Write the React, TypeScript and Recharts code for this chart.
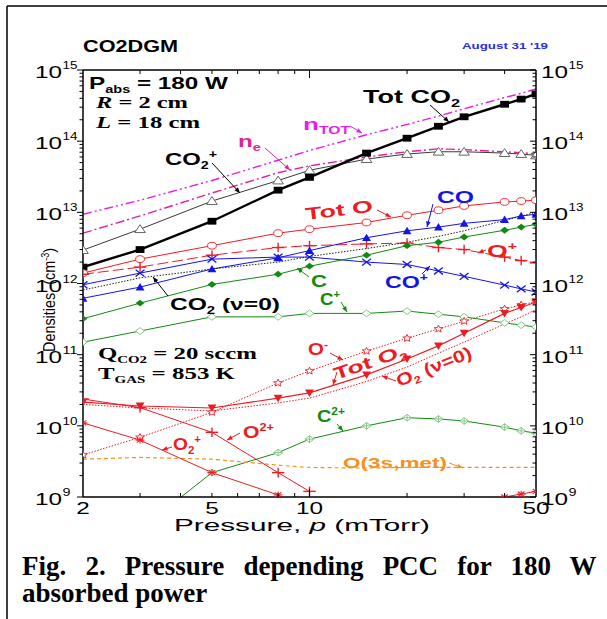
import React from 'react';
import { LineChart, Line, XAxis, YAxis } from 'recharts';

const SANS = '"Liberation Sans", Arial, sans-serif';
const SERIF = '"Liberation Serif", "Times New Roman", serif';

const RED = '#ec1c24';
const BLUE = '#1414e6';
const GREEN = '#128a12';
const LGREEN = '#86c886';
const MAG = '#e81ee8';
const PINK = '#e0209c';
const ORANGE = '#f39223';

// pressure (mTorr)
const P = [2, 3, 5, 8, 10, 15, 20, 25, 30, 40, 45, 50];

// densities (cm^-3)
const totCO2 = [1.7e12, 3e12, 7.5e12, 2.05e13, 3.1e13, 6.8e13, 1.1e14, 1.62e14, 2.2e14, 3.3e14, 3.9e14, 4.6e14];
const co2Ion = [2.95e12, 5.8e12, 1.44e13, 2.8e13, 3.9e13, 5.6e13, 6.6e13, 7.1e13, 7.1e13, 6.8e13, 6.6e13, 6.3e13];
const ne = [5.1e12, 8.9e12, 1.87e13, 3.6e13, 4.5e13, 6e13, 7.1e13, 7.8e13, 7.6e13, 7.1e13, 6.9e13, 6.6e13];
const nTot = [9.4e12, 1.48e13, 2.8e13, 5.4e13, 7.4e13, 1.23e14, 1.72e14, 2.25e14, 2.85e14, 4.1e14, 4.7e14, 5.4e14];
const totO = [1.4e12, 2.2e12, 3.4e12, 5.1e12, 5.8e12, 7.2e12, 9.1e12, 1.07e13, 1.23e13, 1.4e13, 1.44e13, 1.48e13];
const oIon = [1.35e12, 1.7e12, 2.5e12, 3.2e12, 3.4e12, 3.6e12, 3.7e12, 3.2e12, 3e12, 2.35e12, 2.1e12, 1.95e12];
const co = [6.2e11, 8.9e11, 1.6e12, 2.3e12, 2.9e12, 4.4e12, 5.5e12, 6.2e12, 7e12, 7.9e12, 8.9e12, 9.4e12];
const coIon = [9.6e11, 1.4e12, 2.2e12, 2.35e12, 2.35e12, 2e12, 1.85e12, 1.5e12, 1.26e12, 9.5e11, 8.4e11, 7.6e11];
const co2v0 = [8.1e11, 1.2e12, 1.6e12, 2e12, 2.4e12, 3.1e12, 3.8e12, 4.6e12, 5.5e12, 7.7e12, 8.8e12, 1e13];
const cAtom = [3.2e11, 5.3e11, 9.7e11, 1.35e12, 1.75e12, 2.5e12, 3.4e12, 3.8e12, 4.5e12, 5.6e12, 6.2e12, 6.8e12];
const cIon = [1.5e11, 2.15e11, 3.4e11, 3.4e11, 3.8e11, 3.8e11, 4.1e11, 3.7e11, 3.4e11, 2.8e11, 2.6e11, 2.45e11];
const oNeg = [3.9e9, 6.9e9, 1.55e10, 4e10, 5.9e10, 1.12e11, 1.7e11, 2.3e11, 2.95e11, 4.4e11, 5e11, 5.6e11];
const totO2 = [2.15e10, 1.9e10, 1.78e10, 2.45e10, 2.9e10, 5.2e10, 8.7e10, 1.33e11, 2e11, 3.8e11, 4.6e11, 5.5e11];
const o2v0 = [2e10, 1.78e10, 1.62e10, 2.1e10, 2.45e10, 4.2e10, 6.7e10, 1.05e11, 1.5e11, 2.7e11, 3.4e11, 4.3e11];
const c2Ion = [null, 3.5e8, 2.2e9, 4.2e9, 6.5e9, 1e10, 1.3e10, 1.25e10, 1.17e10, 9.6e9, 8.5e9, 7.9e9];
const o3s = [3.4e9, 3.6e9, 3.4e9, 2.8e9, 2.6e9, 2.55e9, 2.6e9, 2.6e9, 2.6e9, 2.6e9, 2.6e9, 2.6e9];
const o2Ion = [1.1e10, 6.3e9, 2.2e9, 1.07e9, 6e8, 3e8, 2.5e8, 3e8, 5e8, 1e9, 1.1e9, 1.2e9];
const oDbl = [2.38e10, 1.8e10, 8.1e9, 2.2e9, 1.2e9, null, null, null, null, null, null, null];

const xTicks = [2, 3, 4, 5, 6, 7, 8, 9, 10, 20, 30, 40, 50];
const xLabels = [2, 5, 10, 50];
const yTicks: number[] = [];
for (let e = 9; e <= 15; e++) {
  for (let m = 1; m <= 9; m++) {
    if (e === 15 && m > 1) break;
    yTicks.push(m * Math.pow(10, e));
  }
}

const rows = P.map((p, i) => ({
  p,
  totCO2: totCO2[i], co2Ion: co2Ion[i], ne: ne[i], nTot: nTot[i],
  totO: totO[i], oIon: oIon[i], co: co[i], coIon: coIon[i], co2v0: co2v0[i],
  cAtom: cAtom[i], cIon: cIon[i], oNeg: oNeg[i], totO2: totO2[i], o2v0: o2v0[i],
  c2Ion: c2Ion[i], o3s: o3s[i], o2Ion: o2Ion[i], oDbl: oDbl[i],
}));

const Marker = ({ kind, color, x, y }: any) => {
  const s = 3.4;
  const w = s * 1.3;
  switch (kind) {
    case 'square':
      return <rect x={x - w} y={y - s} width={2 * w} height={2 * s} fill={color} />;
    case 'triOpen':
      return <polygon points={`${x - w * 1.2},${y + s} ${x + w * 1.2},${y + s} ${x},${y - s * 1.3}`} fill="#fff" stroke="#666" strokeWidth={1} />;
    case 'triUp':
      return <polygon points={`${x - w},${y + s} ${x + w},${y + s} ${x},${y - s * 1.2}`} fill={color} />;
    case 'triDown':
      return <polygon points={`${x - w},${y - s} ${x + w},${y - s} ${x},${y + s * 1.2}`} fill={color} />;
    case 'circle':
      return <ellipse cx={x} cy={y} rx={w} ry={s} fill="#fff" stroke={color} strokeWidth={0.9} />;
    case 'plus':
      return (
        <g stroke={color} strokeWidth={1.4}>
          <line x1={x - w * 1.4} x2={x + w * 1.4} y1={y} y2={y} />
          <line x1={x} x2={x} y1={y - s * 1.4} y2={y + s * 1.4} />
        </g>
      );
    case 'cross':
      return (
        <g stroke={color} strokeWidth={1.3}>
          <line x1={x - w} x2={x + w} y1={y - s} y2={y + s} />
          <line x1={x - w} x2={x + w} y1={y + s} y2={y - s} />
        </g>
      );
    case 'diamond':
      return <polygon points={`${x - w},${y} ${x},${y - s} ${x + w},${y} ${x},${y + s}`} fill={color} />;
    case 'diamondOpen':
      return <polygon points={`${x - w},${y} ${x},${y - s} ${x + w},${y} ${x},${y + s}`} fill="#fff" stroke={color} strokeWidth={1} />;
    case 'diamondCross':
      return (
        <g stroke={color} strokeWidth={1}>
          <polygon points={`${x - w},${y} ${x},${y - s} ${x + w},${y} ${x},${y + s}`} fill="#fff" />
          <line x1={x - w} x2={x + w} y1={y} y2={y} />
          <line x1={x} x2={x} y1={y - s} y2={y + s} />
        </g>
      );
    case 'star': {
      const pts: string[] = [];
      for (let k = 0; k < 10; k++) {
        const r = k % 2 === 0 ? 3.8 : 1.7;
        const a = -Math.PI / 2 + (k * Math.PI) / 5;
        pts.push(`${x + r * 1.2 * Math.cos(a)},${y + r * Math.sin(a)}`);
      }
      return <polygon points={pts.join(' ')} fill="#fff" stroke={color} strokeWidth={0.9} />;
    }
    case 'asterisk':
      return (
        <g stroke={color} strokeWidth={1.1}>
          <line x1={x - w} x2={x + w} y1={y} y2={y} />
          <line x1={x} x2={x} y1={y - s} y2={y + s} />
          <line x1={x - w * 0.75} x2={x + w * 0.75} y1={y - s * 0.75} y2={y + s * 0.75} />
          <line x1={x - w * 0.75} x2={x + w * 0.75} y1={y + s * 0.75} y2={y - s * 0.75} />
        </g>
      );
    default:
      return null;
  }
};

const dotFn = (kind: string, color: string) => (props: any) => {
  const { cx, cy, index, value } = props;
  if (cx == null || cy == null || value == null) return <g key={index} />;
  return (
    <g key={index}>
      <Marker kind={kind} color={color} x={cx} y={cy} />
    </g>
  );
};

// tick marks and labels are drawn by hand so minor/major ticks can differ
const YTick = (side: 'l' | 'r') => (props: any) => {
  const { y, payload } = props;
  const x = side === 'l' ? 83 : 536;
  const v = payload.value;
  const lg = Math.log10(v);
  const e = Math.round(lg);
  const major = Math.abs(lg - e) < 1e-6;
  const len = major ? 6 : 3.5;
  const lx = side === 'l' ? 35 : 541;
  return (
    <g>
      <line x1={x - len} x2={x} y1={y} y2={y} stroke="#000" strokeWidth={1} />
      {major && (
        <g fontFamily={SANS} fill="#000">
          <text x={lx} y={y + 8} fontSize={16} textLength={27} lengthAdjust="spacingAndGlyphs">10</text>
          <text x={lx + 27.5} y={y - 1} fontSize={10.5} textLength={e >= 10 ? 15 : 8} lengthAdjust="spacingAndGlyphs">{e}</text>
        </g>
      )}
    </g>
  );
};

const XTick = (top: boolean) => (props: any) => {
  const { x, payload } = props;
  const y = top ? 70 : 497;
  const v = payload.value;
  const edge = v === 2 || v === 50;
  const len = v === 10 ? 8 : 4;
  const d = top ? 1 : -1;
  return (
    <g>
      {!edge && <line x1={x} x2={x} y1={y} y2={y + d * len} stroke="#000" strokeWidth={1} />}
      {!top && xLabels.includes(v) && (
        <text x={x} y={514} textAnchor="middle" fontFamily={SANS} fontSize={16} textLength={v >= 10 ? 27 : 13.5} lengthAdjust="spacingAndGlyphs">{v}</text>
      )}
    </g>
  );
};

type Part = [string, string?];

const Label = ({ x, y, w, fs = 17, fill = '#000', family = SANS, weight = 700, rot = 0, parts }: any) => {
  let cur = 0;
  const spans = (parts as Part[]).map((pt, i) => {
    const [t, k] = pt;
    const target = k === 'sub' ? fs * 0.22 : k === 'sup' ? -fs * 0.4 : 0;
    const dy = target - cur;
    cur = target;
    const size = k === 'sub' || k === 'sup' ? fs * 0.6 : fs;
    return (
      <tspan key={i} dy={dy} fontSize={size} fontStyle={k === 'i' ? 'italic' : undefined}>
        {t}
      </tspan>
    );
  });
  return (
    <text
      x={0}
      y={0}
      transform={`translate(${x},${y}) rotate(${rot})`}
      textLength={w}
      lengthAdjust="spacingAndGlyphs"
      fontFamily={family}
      fontWeight={weight}
      fontSize={fs}
      fill={fill}
      style={{ whiteSpace: 'pre' }}
    >
      {spans}
    </text>
  );
};

const Arrow = ({ x1, y1, x2, y2, color }: any) => {
  const a = Math.atan2(y2 - y1, x2 - x1);
  const h = 6;
  const p1 = `${x2 - h * Math.cos(a - 0.4)},${y2 - h * Math.sin(a - 0.4)}`;
  const p2 = `${x2 - h * Math.cos(a + 0.4)},${y2 - h * Math.sin(a + 0.4)}`;
  return (
    <g>
      <line x1={x1} y1={y1} x2={x2} y2={y2} stroke={color} strokeWidth={1} />
      <polygon points={`${x2},${y2} ${p1} ${p2}`} fill={color} />
    </g>
  );
};

const labels = [
  { x: 89, y: 89, w: 139, parts: [['P'], ['abs', 'sub'], [' = 180 W']] },
  { x: 96, y: 108, w: 92, family: SERIF, parts: [['R', 'i'], [' = 2 cm']] },
  { x: 96, y: 128, w: 104, family: SERIF, parts: [['L', 'i'], [' = 18 cm']] },
  { x: 363, y: 103, w: 97, fs: 18, parts: [['Tot CO'], ['2', 'sub']] },
  { x: 303, y: 130, w: 47, fill: MAG, parts: [['n'], ['TOT', 'sub']] },
  { x: 238, y: 147, w: 23, fill: PINK, parts: [['n'], ['e', 'sub']] },
  { x: 165, y: 165, w: 52, parts: [['CO'], ['2', 'sub'], ['+', 'sup']] },
  { x: 306, y: 220, w: 68, fill: RED, rot: -7, parts: [['Tot O']] },
  { x: 437, y: 203, w: 37, fill: BLUE, parts: [['CO']] },
  { x: 487, y: 257, w: 30, fill: RED, parts: [['O'], ['+', 'sup']] },
  { x: 385, y: 288, w: 43, fill: BLUE, parts: [['CO'], ['+', 'sup']] },
  { x: 311, y: 287, w: 16, fill: GREEN, parts: [['C']] },
  { x: 320, y: 305, w: 20, fill: GREEN, parts: [['C'], ['+', 'sup']] },
  { x: 170, y: 310, w: 110, parts: [['CO'], ['2', 'sub'], [' (\u03bd=0)']] },
  { x: 98, y: 359, w: 159, family: SERIF, parts: [['Q'], ['CO2', 'sub'], [' = 20 sccm']] },
  { x: 98, y: 379, w: 137, family: SERIF, parts: [['T'], ['GAS', 'sub'], [' = 853 K']] },
  { x: 308, y: 355, w: 20, fill: RED, parts: [['O'], ['-', 'sup']] },
  { x: 336, y: 380, w: 76, fill: RED, rot: -19, parts: [['Tot O'], ['2', 'sub']] },
  { x: 399, y: 387, w: 80, fill: RED, rot: -22, parts: [['O'], ['2', 'sub'], [' (\u03bd=0)']] },
  { x: 317, y: 422, w: 28, fill: GREEN, parts: [['C'], ['2+', 'sup']] },
  { x: 343, y: 468, w: 104, fs: 15, fill: ORANGE, parts: [['O(3s,met)']] },
  { x: 173, y: 450, w: 28, fill: RED, parts: [['O'], ['2', 'sub'], ['+', 'sup']] },
  { x: 243, y: 438, w: 31, fill: RED, parts: [['O'], ['2+', 'sup']] },
];

const arrows = [
  { x1: 212, y1: 163, x2: 240, y2: 193, color: '#000' },
  { x1: 265, y1: 148, x2: 290, y2: 170, color: PINK },
  { x1: 350, y1: 126, x2: 362, y2: 133, color: MAG },
  { x1: 430, y1: 105, x2: 449, y2: 122, color: '#000' },
  { x1: 377, y1: 210, x2: 391, y2: 217, color: RED },
  { x1: 433, y1: 204, x2: 427, y2: 227, color: BLUE },
  { x1: 486, y1: 250, x2: 478, y2: 253, color: RED },
  { x1: 422, y1: 274, x2: 430, y2: 266, color: BLUE },
  { x1: 309, y1: 277, x2: 297, y2: 268, color: GREEN },
  { x1: 341, y1: 302, x2: 347, y2: 312, color: GREEN },
  { x1: 168, y1: 296, x2: 153, y2: 277, color: '#000' },
  { x1: 330, y1: 353, x2: 343, y2: 360, color: RED },
  { x1: 337, y1: 372, x2: 333, y2: 385, color: RED },
  { x1: 396, y1: 381, x2: 382, y2: 376, color: RED },
  { x1: 337, y1: 424, x2: 343, y2: 431, color: GREEN },
  { x1: 449, y1: 463, x2: 463, y2: 468, color: ORANGE },
  { x1: 172, y1: 447, x2: 162, y2: 450, color: RED },
  { x1: 240, y1: 433, x2: 227, y2: 440, color: RED },
];

const series = [
  { key: 'nTot', color: MAG, width: 1.4, dash: '9 3 2 3 2 3', marker: null },
  { key: 'ne', color: PINK, width: 1.4, dash: '9 3 2 3', marker: null },
  { key: 'co2Ion', color: '#222', width: 0.9, dash: undefined, marker: 'triOpen' },
  { key: 'totCO2', color: '#000', width: 2.4, dash: undefined, marker: 'square' },
  { key: 'totO', color: RED, width: 1, dash: undefined, marker: 'circle' },
  { key: 'oIon', color: RED, width: 1, dash: '11 4', marker: 'plus' },
  { key: 'co', color: BLUE, width: 1, dash: undefined, marker: 'triUp' },
  { key: 'coIon', color: BLUE, width: 1, dash: undefined, marker: 'cross' },
  { key: 'co2v0', color: '#222', width: 1, dash: '1.5 1.5', marker: null },
  { key: 'cAtom', color: GREEN, width: 1, dash: undefined, marker: 'diamond' },
  { key: 'cIon', color: GREEN, width: 1, dash: undefined, marker: 'diamondOpen', mcolor: LGREEN },
  { key: 'oNeg', color: RED, width: 1, dash: '1.5 1.5', marker: 'star' },
  { key: 'totO2', color: RED, width: 1.2, dash: undefined, marker: 'triDown' },
  { key: 'o2v0', color: RED, width: 1, dash: '1.5 1.5', marker: null },
  { key: 'c2Ion', color: GREEN, width: 1, dash: undefined, marker: 'diamondCross', mcolor: LGREEN },
  { key: 'o3s', color: ORANGE, width: 1.2, dash: '4 3', marker: null },
  { key: 'o2Ion', color: RED, width: 1, dash: undefined, marker: 'asterisk' },
  { key: 'oDbl', color: RED, width: 1, dash: undefined, marker: 'plus' },
];

export default function App() {
  return (
    <div style={{ position: 'absolute', left: 0, top: 0, width: 607, height: 619, background: '#fff', overflow: 'hidden' }}>
      <div style={{ position: 'absolute', left: 0, top: 0 }}>
        <LineChart width={607} height={619} data={rows} margin={{ top: 40, right: 41, bottom: 92, left: 53 }}>
          <XAxis
            xAxisId="b"
            dataKey="p"
            type="number"
            scale="log"
            domain={[2, 50]}
            allowDataOverflow
            ticks={xTicks}
            interval={0}
            height={30}
            tickSize={0}
            tickMargin={0}
            tickLine={false}
            tick={XTick(false)}
            axisLine={{ stroke: '#000', strokeWidth: 1.5 }}
          />
          <XAxis
            xAxisId="t"
            orientation="top"
            dataKey="p"
            type="number"
            scale="log"
            domain={[2, 50]}
            allowDataOverflow
            ticks={xTicks}
            interval={0}
            height={30}
            tickSize={0}
            tickMargin={0}
            tickLine={false}
            tick={XTick(true)}
            axisLine={{ stroke: '#000', strokeWidth: 1.5 }}
          />
          <YAxis
            yAxisId="l"
            type="number"
            scale="log"
            domain={[1e9, 1e15]}
            allowDataOverflow
            ticks={yTicks}
            interval={0}
            width={30}
            tickSize={0}
            tickMargin={0}
            tickLine={false}
            tick={YTick('l')}
            axisLine={{ stroke: '#000', strokeWidth: 1.5 }}
          />
          <YAxis
            yAxisId="r"
            orientation="right"
            type="number"
            scale="log"
            domain={[1e9, 1e15]}
            allowDataOverflow
            ticks={yTicks}
            interval={0}
            width={30}
            tickSize={0}
            tickMargin={0}
            tickLine={false}
            tick={YTick('r')}
            axisLine={{ stroke: '#000', strokeWidth: 1.5 }}
          />
          {series.map((s) => (
            <Line
              key={s.key}
              xAxisId="b"
              yAxisId="l"
              dataKey={s.key}
              type="linear"
              stroke={s.color}
              strokeWidth={s.width}
              strokeDasharray={s.dash}
              dot={s.marker ? dotFn(s.marker, (s as any).mcolor || s.color) : false}
              activeDot={false}
              isAnimationActive={false}
              connectNulls={false}
            />
          ))}
        </LineChart>
      </div>
      <svg width={607} height={619} style={{ position: 'absolute', left: 0, top: 0, pointerEvents: 'none' }}>
        <line x1={7} y1={6} x2={607} y2={6} stroke="#000" strokeWidth={1.5} />
        <line x1={7} y1={6} x2={7} y2={619} stroke="#000" strokeWidth={1.5} />
        <text x={83} y={52} fontFamily={SANS} fontWeight={700} fontSize={16} textLength={95} lengthAdjust="spacingAndGlyphs">CO2DGM</text>
        <text x={462} y={49} fontFamily={SANS} fontWeight={700} fontSize={9.5} fill="#2b2be0" textLength={86} lengthAdjust="spacingAndGlyphs">August 31 '19</text>
        <text transform="translate(55,352) rotate(-90)" fontFamily={SANS} fontSize={16} fill="#000" textLength={104} lengthAdjust="spacingAndGlyphs" style={{ whiteSpace: 'pre' }}>
          <tspan>Densities  (cm</tspan>
          <tspan dy={-6} fontSize={10}>-3</tspan>
          <tspan dy={6}>)</tspan>
        </text>
        <text x={174} y={531} fontFamily={SANS} fontSize={17} textLength={256} lengthAdjust="spacingAndGlyphs" style={{ whiteSpace: 'pre' }}>
          <tspan>Pressure, </tspan>
          <tspan fontStyle="italic">p</tspan>
          <tspan> (mTorr)</tspan>
        </text>
        {labels.map((l, i) => (
          <Label key={i} {...l} />
        ))}
        {arrows.map((a, i) => (
          <Arrow key={i} {...a} />
        ))}
        <text x={22} y={575} fontFamily={SERIF} fontWeight={700} fontSize={27} wordSpacing={12.4} style={{ whiteSpace: 'pre' }}>
          Fig. 2. Pressure depending PCC for 180 W
        </text>
        <text x={22} y={602} fontFamily={SERIF} fontWeight={700} fontSize={27}>
          absorbed power
        </text>
      </svg>
    </div>
  );
}
